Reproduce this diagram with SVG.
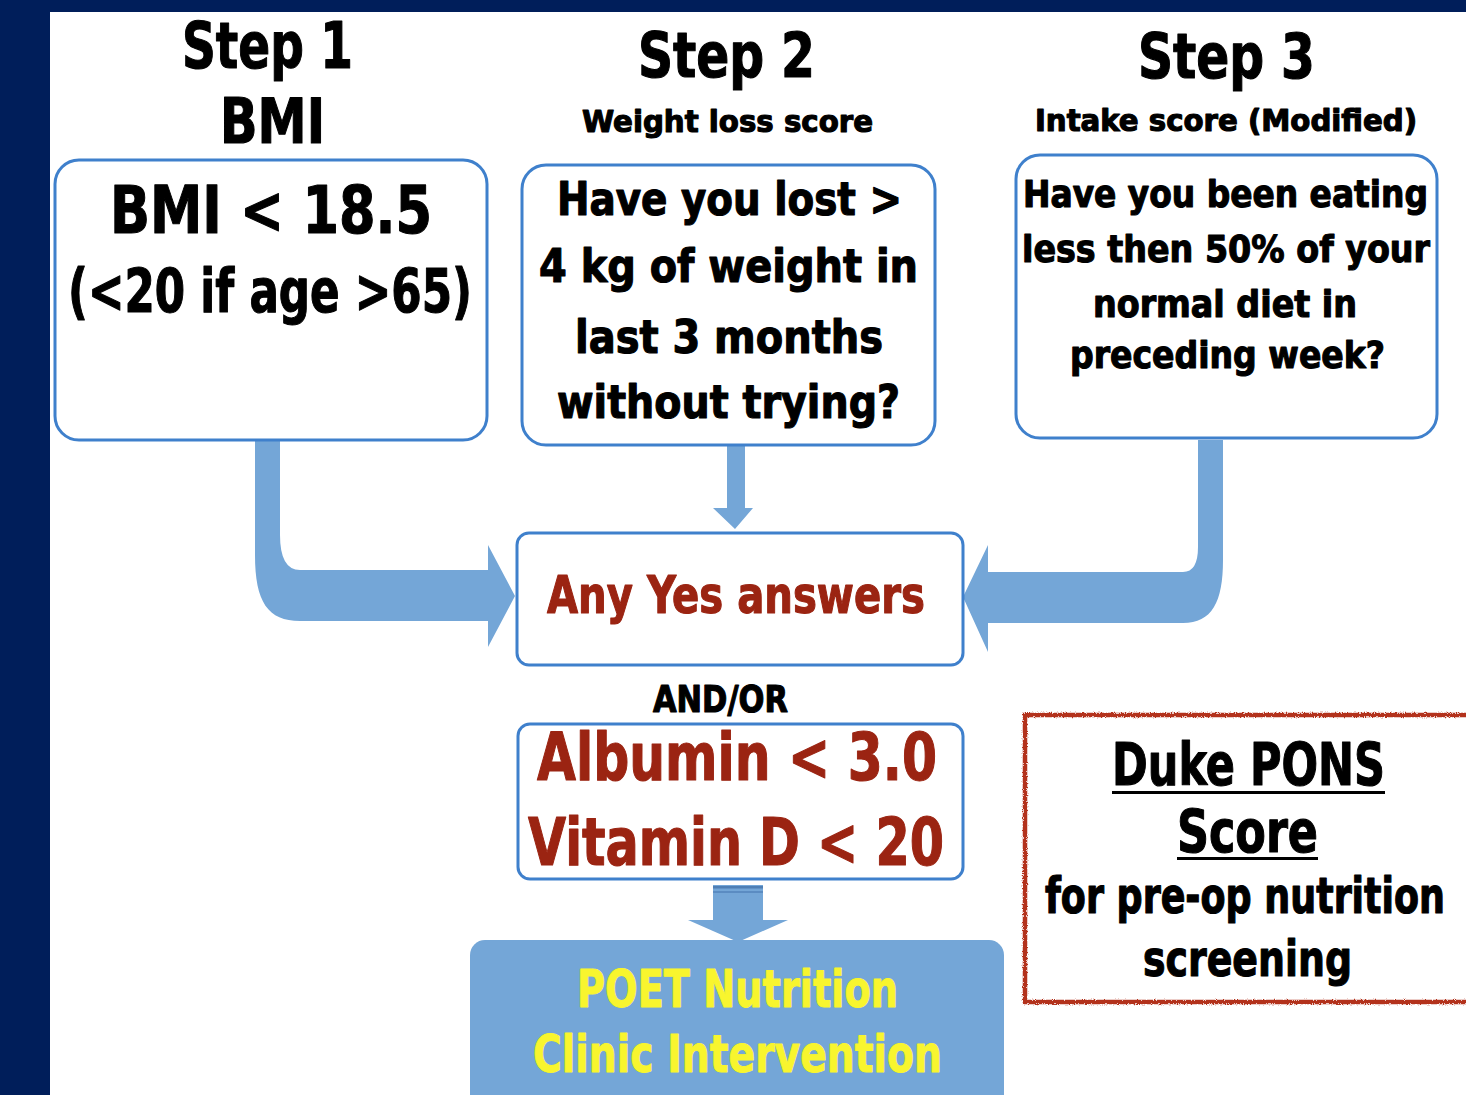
<svg xmlns="http://www.w3.org/2000/svg" width="1466" height="1095" viewBox="0 0 1466 1095">
<defs>
<style>
.t{font-family:"Liberation Sans Narrow","DejaVu Sans Condensed","Liberation Sans",sans-serif;font-weight:bold;text-anchor:middle;stroke-linejoin:round}
.k{fill:#000;stroke:#000;stroke-width:1.1}
.r{fill:#9b2412;stroke:#9b2412;stroke-width:1.1}
.y{fill:#f8f52e;stroke:#f8f52e;stroke-width:0.9}
.box{fill:#fff;stroke:#3f80cc;stroke-width:3}
.arr{fill:#74a6d7;stroke:none}
</style>
<filter id="rough" x="-5%" y="-5%" width="110%" height="110%">
<feTurbulence type="fractalNoise" baseFrequency="0.9" numOctaves="2" seed="3" result="n"/>
<feDisplacementMap in="SourceGraphic" in2="n" scale="3.5" xChannelSelector="R" yChannelSelector="G"/>
</filter>
</defs>
<rect x="0" y="0" width="1466" height="1095" fill="#001e5a"/>
<rect x="50" y="12" width="1416" height="1083" fill="#fff"/>

<g id="connectors">
<path class="arr" d="M255,440 L280,440 L280,535 Q280,570 300,570 L488,570 L488,545 L515,596 L488,647 L488,621 L300,621 C268,621 255,602 255,555 Z"/>
<path class="arr" d="M1223,440 L1198,440 L1198,547 Q1198,572 1183,572 L988,572 L988,545 L963,597 L988,652 L988,623 L1183,623 C1212,623 1223,602 1223,560 Z"/>
<path class="arr" d="M727,446 L745,446 L745,508 L753,508 L735,529 L713,508 L727,508 Z"/>
<path class="arr" d="M713,885 L763,885 L763,920 L788,920 L738,942 L688,920 L713,920 Z"/>
<rect x="713" y="886" width="50" height="2.5" fill="#4f7fb5"/>
<rect x="713" y="891" width="50" height="2" fill="#5b8cc2"/>
</g>

<g id="step1">
<text class="t k" x="267.5" y="68" font-size="64" textLength="171" lengthAdjust="spacingAndGlyphs">Step 1</text>
<text class="t k" x="272.5" y="143" font-size="62" textLength="105" lengthAdjust="spacingAndGlyphs">BMI</text>
<rect class="box" x="55" y="160" width="432" height="280" rx="24"/>
<text class="t k" x="271" y="233" font-size="66" textLength="322" lengthAdjust="spacingAndGlyphs">BMI &lt; 18.5</text>
<text class="t k" x="270" y="312" font-size="60" textLength="404" lengthAdjust="spacingAndGlyphs">(&lt;20 if age &gt;65)</text>
</g>

<g id="step2">
<text class="t k" x="726.5" y="77" font-size="62" textLength="177" lengthAdjust="spacingAndGlyphs">Step 2</text>
<text class="t k" x="727.5" y="132" font-size="31" textLength="291" lengthAdjust="spacingAndGlyphs">Weight loss score</text>
<rect class="box" x="522" y="165" width="413" height="280" rx="24"/>
<text class="t k" x="729.5" y="215" font-size="46" textLength="345" lengthAdjust="spacingAndGlyphs">Have you lost &gt;</text>
<text class="t k" x="728.5" y="282" font-size="46" textLength="379" lengthAdjust="spacingAndGlyphs">4 kg of weight in</text>
<text class="t k" x="729" y="353" font-size="46" textLength="308" lengthAdjust="spacingAndGlyphs">last 3 months</text>
<text class="t k" x="728.5" y="418" font-size="46" textLength="343" lengthAdjust="spacingAndGlyphs">without trying?</text>
</g>

<g id="step3">
<text class="t k" x="1226.5" y="78" font-size="62" textLength="177" lengthAdjust="spacingAndGlyphs">Step 3</text>
<text class="t k" x="1226" y="131" font-size="31" textLength="382" lengthAdjust="spacingAndGlyphs">Intake score (Modified)</text>
<rect class="box" x="1016" y="155" width="421" height="283" rx="24"/>
<text class="t k" x="1225.5" y="207" font-size="38" textLength="405" lengthAdjust="spacingAndGlyphs">Have you been eating</text>
<text class="t k" x="1226" y="262" font-size="38" textLength="408" lengthAdjust="spacingAndGlyphs">less then 50% of your</text>
<text class="t k" x="1225" y="317" font-size="38" textLength="264" lengthAdjust="spacingAndGlyphs">normal diet in</text>
<text class="t k" x="1227.5" y="368" font-size="38" textLength="315" lengthAdjust="spacingAndGlyphs">preceding week?</text>
</g>

<g id="anyYes">
<rect class="box" x="517" y="533" width="446" height="132" rx="12"/>
<text class="t r" x="736" y="613" font-size="52" textLength="378" lengthAdjust="spacingAndGlyphs">Any Yes answers</text>
</g>

<g id="andor">
<text class="t k" x="720.5" y="712" font-size="37" textLength="135" lengthAdjust="spacingAndGlyphs">AND/OR</text>
</g>

<g id="labs">
<rect class="box" x="518" y="724" width="445" height="155" rx="12"/>
<text class="t r" x="737" y="780" font-size="66" textLength="400" lengthAdjust="spacingAndGlyphs">Albumin &lt; 3.0</text>
<text class="t r" x="736" y="865" font-size="66" textLength="416" lengthAdjust="spacingAndGlyphs">Vitamin D &lt; 20</text>
</g>

<g id="poet">
<rect x="470" y="940" width="534" height="175" rx="15" fill="#74a6d7"/>
<text class="t y" x="737.5" y="1007" font-size="51" textLength="321" lengthAdjust="spacingAndGlyphs">POET Nutrition</text>
<text class="t y" x="737.5" y="1072" font-size="51" textLength="409" lengthAdjust="spacingAndGlyphs">Clinic Intervention</text>
</g>

<g id="duke">
<rect x="1025" y="715" width="446" height="287" fill="#fff" stroke="#b3301c" stroke-width="4.5" filter="url(#rough)"/>
<text class="t k" x="1248.5" y="785" font-size="59" textLength="273" lengthAdjust="spacingAndGlyphs">Duke PONS</text>
<line x1="1112" y1="792.5" x2="1385" y2="792.5" stroke="#000" stroke-width="3"/>
<text class="t k" x="1247.5" y="852" font-size="59" textLength="141" lengthAdjust="spacingAndGlyphs">Score</text>
<line x1="1177" y1="858.5" x2="1318" y2="858.5" stroke="#000" stroke-width="3"/>
<text class="t k" transform="translate(1245,913) scale(1,1.3)" x="0" y="0" font-size="38" textLength="400" lengthAdjust="spacingAndGlyphs" style="stroke-width:0.9">for pre-op nutrition</text>
<text class="t k" x="1247.5" y="976" font-size="50" textLength="209" lengthAdjust="spacingAndGlyphs">screening</text>
</g>
</svg>
